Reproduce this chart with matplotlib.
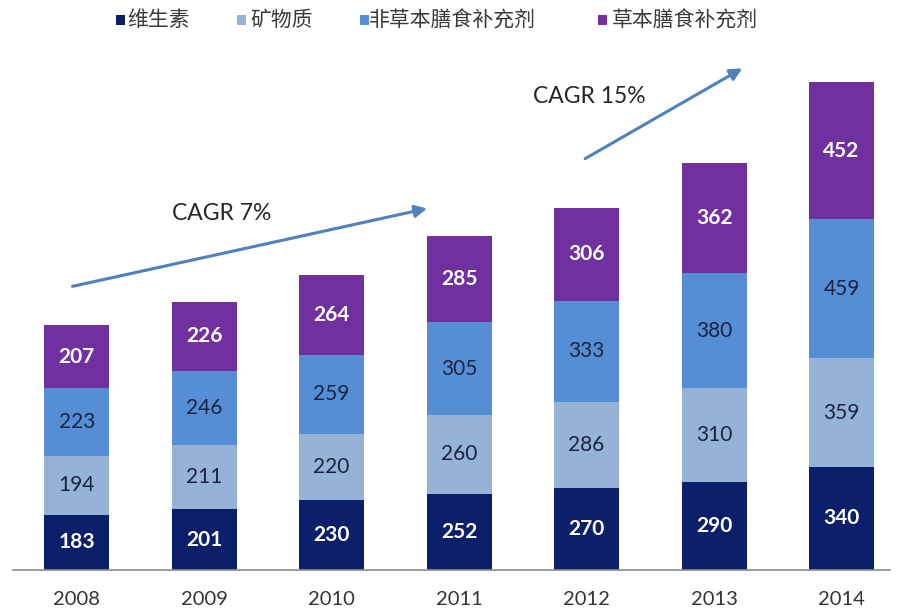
import matplotlib
matplotlib.use("Agg")
import matplotlib.pyplot as plt
import numpy as np

years = ["2008", "2009", "2010", "2011", "2012", "2013", "2014"]
vitamin = [183, 201, 230, 252, 270, 290, 340]
mineral = [194, 211, 220, 260, 286, 310, 359]
non_herbal = [223, 246, 259, 305, 333, 380, 459]
herbal = [207, 226, 264, 285, 306, 362, 452]
series_names = ["维生素", "矿物质", "非草本膳食补充剂", "草本膳食补充剂"]
colors = ["#0c1f6b", "#95b3d7", "#558ed5", "#7030a0"]
label_colors = ["white", "#1a2340", "#1a2340", "white"]
label_weights = ["bold", "normal", "normal", "bold"]
cagr_texts = ["CAGR 7%", "CAGR 15%"]

plt.rcParams['font.family'] = ['Lato', 'Noto Sans CJK SC', 'DejaVu Sans']

W, H = 900, 613
fig = plt.figure(figsize=(W / 100, H / 100), dpi=100)
ax = fig.add_axes([13 / W, 43 / H, 877 / W, 530 / H])

x = np.arange(len(years))
bottom = np.zeros(len(years))
width = 0.51
for vals, c, lc, lw in zip([vitamin, mineral, non_herbal, herbal], colors, label_colors, label_weights):
    vals = np.array(vals)
    ax.bar(x, vals, width, bottom=bottom, color=c, edgecolor='none')
    for xi, b, v in zip(x, bottom, vals):
        ax.text(xi, b + v / 2, str(v), ha='center', va='center', color=lc,
                fontsize=15, fontweight=lw)
    bottom += vals

ax.set_xlim(-0.5, 6.38)
ax.set_ylim(0, 1749)
for s in ['top', 'right', 'left']:
    ax.spines[s].set_visible(False)
ax.spines['bottom'].set_color('#8c8c8c')
ax.spines['bottom'].set_linewidth(1.2)
ax.set_yticks([])
ax.set_xticks(x)
ax.set_xticklabels(years, fontsize=14.5, color='#333333')
ax.tick_params(axis='x', length=0, pad=15)

arrow_kw = dict(arrowstyle='-|>', color='#4f81bd', lw=2.2, mutation_scale=18)
ax.annotate('', xy=(2.77, 1195), xytext=(-0.055, 934), arrowprops=arrow_kw)
ax.annotate('', xy=(5.24, 1660), xytext=(3.97, 1353), arrowprops=arrow_kw)
ax.text(1.14, 1175, cagr_texts[0], ha='center', va='center', fontsize=16.5, color='#262626')
ax.text(4.02, 1561, cagr_texts[1], ha='center', va='center', fontsize=16.5, color='#262626')

# legend drawn manually: square marker + label
sq_x = [116, 237, 360, 598]
txt_x = [127, 250, 369, 612]
leg_y = 1 - 20 / H
for name, c, sx, tx in zip(series_names, colors, sq_x, txt_x):
    fig.patches.append(plt.Rectangle((sx / W, leg_y - 4.5 / H), 9 / W, 9 / H,
                                     transform=fig.transFigure, facecolor=c,
                                     edgecolor='none'))
    fig.text(tx / W, leg_y, name, ha='left', va='center', fontsize=15,
             color='#3a3a3a', family=['Noto Sans CJK SC', 'DejaVu Sans'])

fig.savefig('out.png', dpi=100)
